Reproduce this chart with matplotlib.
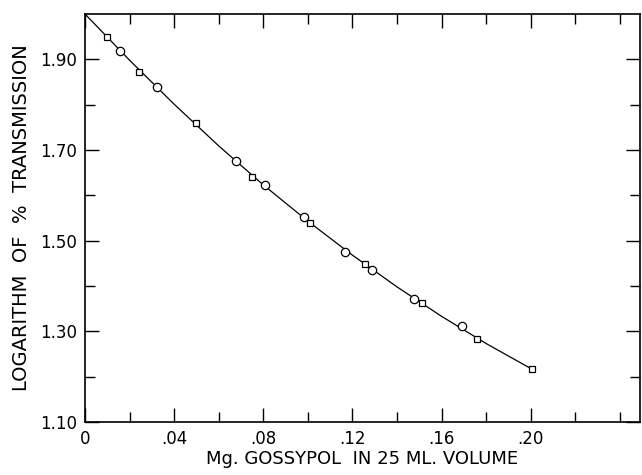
import matplotlib
matplotlib.use("Agg")
import matplotlib.pyplot as plt
import numpy as np

# Data
circle_x = [0.0159, 0.0322, 0.0676, 0.0806, 0.0982, 0.1165, 0.1286, 0.1478, 0.1691]
circle_y = [1.918, 1.838, 1.6755, 1.6225, 1.5512, 1.4753, 1.4349, 1.3724, 1.3119]
square_x = [0.0099, 0.0244, 0.0496, 0.0748, 0.1010, 0.1257, 0.1511, 0.1758, 0.2005]
square_y = [1.9486, 1.872, 1.7587, 1.6395, 1.5393, 1.4481, 1.3614, 1.2841, 1.2179]
curve_x = [0.0, 0.02, 0.04, 0.06, 0.08, 0.10, 0.12, 0.14, 0.16, 0.18, 0.20]
curve_y = [2.000, 1.898, 1.801, 1.709, 1.623, 1.543, 1.468, 1.398, 1.333, 1.273, 1.218]

xticks = [0, 0.04, 0.08, 0.12, 0.16, 0.20]
xtick_labels = ["0", ".04", ".08", ".12", ".16", ".20"]
yticks = [1.10, 1.30, 1.50, 1.70, 1.90]
ytick_labels = ["1.10", "1.30", "1.50", "1.70", "1.90"]

fig = plt.figure(figsize=(6.42, 4.75), dpi=100)
ax = fig.add_axes([85 / 642, 53 / 475, 555 / 642, 408 / 475])

ax.plot(curve_x, curve_y, color="black", lw=0.9, zorder=2)
ax.plot(circle_x, circle_y, "o", ms=6, mfc="white", mec="black", mew=0.9, zorder=3)
ax.plot(square_x, square_y, "s", ms=4.5, mfc="white", mec="black", mew=0.9, zorder=3)

ax.set_xlim(0, 0.249)
ax.set_ylim(1.10, 2.00)

ax.set_xticks(xticks)
ax.set_xticklabels(xtick_labels)
ax.set_xticks([0.02, 0.06, 0.10, 0.14, 0.18, 0.22, 0.24], minor=True)
ax.set_yticks(yticks)
ax.set_yticklabels(ytick_labels)
ax.set_yticks([1.20, 1.40, 1.60, 1.80], minor=True)

ax.tick_params(which="both", direction="in", top=True, right=True, width=1.0,
               labelsize=12, colors="black")
ax.tick_params(which="major", length=10)
ax.tick_params(which="minor", length=7.5)
ax.tick_params(axis="x", pad=6)
ax.tick_params(axis="y", pad=6)

for s in ax.spines.values():
    s.set_linewidth(1.2)

ax.set_xlabel("Mg. GOSSYPOL  IN 25 ML. VOLUME", fontsize=13, labelpad=1)
ax.set_ylabel("LOGARITHM  OF  %  TRANSMISSION", fontsize=14, labelpad=6)

fig.savefig("out.png", dpi=100)
